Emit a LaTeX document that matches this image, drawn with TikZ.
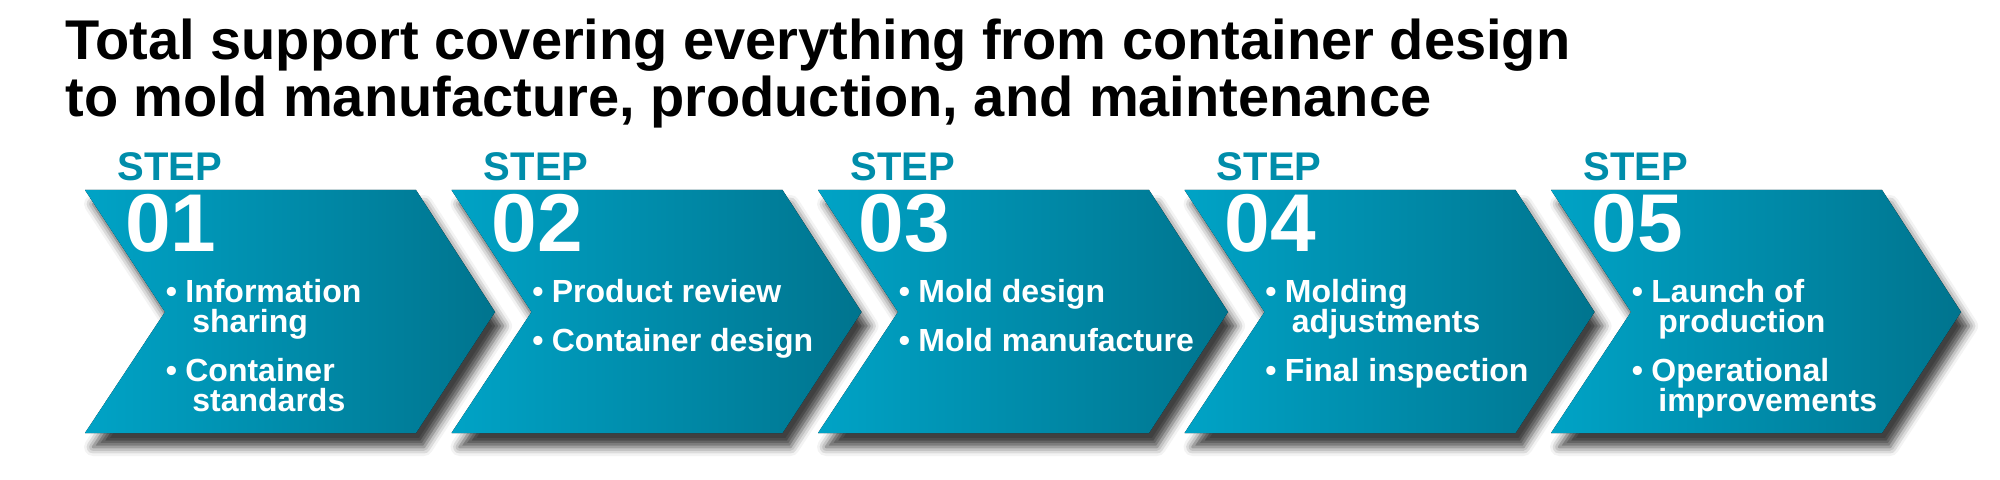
\documentclass[tikz,border=0pt]{standalone}
\usepackage{fontspec}
\setmainfont{Liberation Sans}
\usepackage{tikz}
\usetikzlibrary{calc,shadows.blur}

\definecolor{stepA}{RGB}{0,163,198}
\definecolor{stepB}{RGB}{0,116,142}
\definecolor{steptxt}{RGB}{0,141,170}
\newcommand{\itembul}{\llap{\textbullet\hspace{4.2pt}}}
\newcommand{\itemcont}{\hspace*{3.5pt}}

\begin{document}
\begin{tikzpicture}[x=0.5pt,y=-0.5pt,
    headline/.style={anchor=base west,inner sep=0,align=left,font=\fontsize{28}{28.5}\selectfont\bfseries},
    steplabel/.style={anchor=base west,inner sep=0,text=steptxt,font=\fontsize{20}{20}\selectfont\bfseries},
    stepnum/.style={anchor=base west,inner sep=0,text=white,font=\fontsize{41}{41}\selectfont\bfseries},
    items/.style={anchor=base west,inner sep=0,align=left,text=white,font=\fontsize{16}{15}\selectfont\bfseries},
    chevron/.style={left color=stepA,right color=stepB,
        blur shadow={shadow xshift=4pt,shadow yshift=-7pt,shadow blur radius=4.5pt,shadow opacity=75}}]
    \useasboundingbox (0,0) rectangle (2000,480);

    % base of a multi-line node is its last line
    \node [headline] (head) at (65,117) {Total support covering everything from container design\\to mold manufacture, production, and maintenance};

    % the five steps
    \foreach \i in {1,...,5} {
        \pgfmathsetmacro\xo{85+366.5*(\i-1)}
        \fill [chevron] (\xo,190) -- ++(331,0) -- ++(79,122) -- ++(-79,121) -- ++(-331,0) -- ++(80,-121) -- cycle;
        \node [steplabel] (step\i) at (\xo+32,181) {STEP};
        \node [stepnum]   (num\i)  at (\xo+40,252) {0\i};
        \coordinate (txt\i) at (\xo+100,303);
    }

    \node [items] (list1) at ($(txt1)+(0,108.5)$) {\itembul Information\\\itemcont sharing\\[9.5pt]\itembul Container\\\itemcont standards};
    \node [items] (list2) at ($(txt2)+(0,48.5)$)  {\itembul Product review\\[9.5pt]\itembul Container design};
    \node [items] (list3) at ($(txt3)+(0,48.5)$)  {\itembul Mold design\\[9.5pt]\itembul Mold manufacture};
    \node [items] (list4) at ($(txt4)+(0,78.5)$)  {\itembul Molding\\\itemcont adjustments\\[9.5pt]\itembul Final inspection};
    \node [items] (list5) at ($(txt5)+(0,108.5)$) {\itembul Launch of\\\itemcont production\\[9.5pt]\itembul Operational\\\itemcont improvements};
\end{tikzpicture}
\end{document}
